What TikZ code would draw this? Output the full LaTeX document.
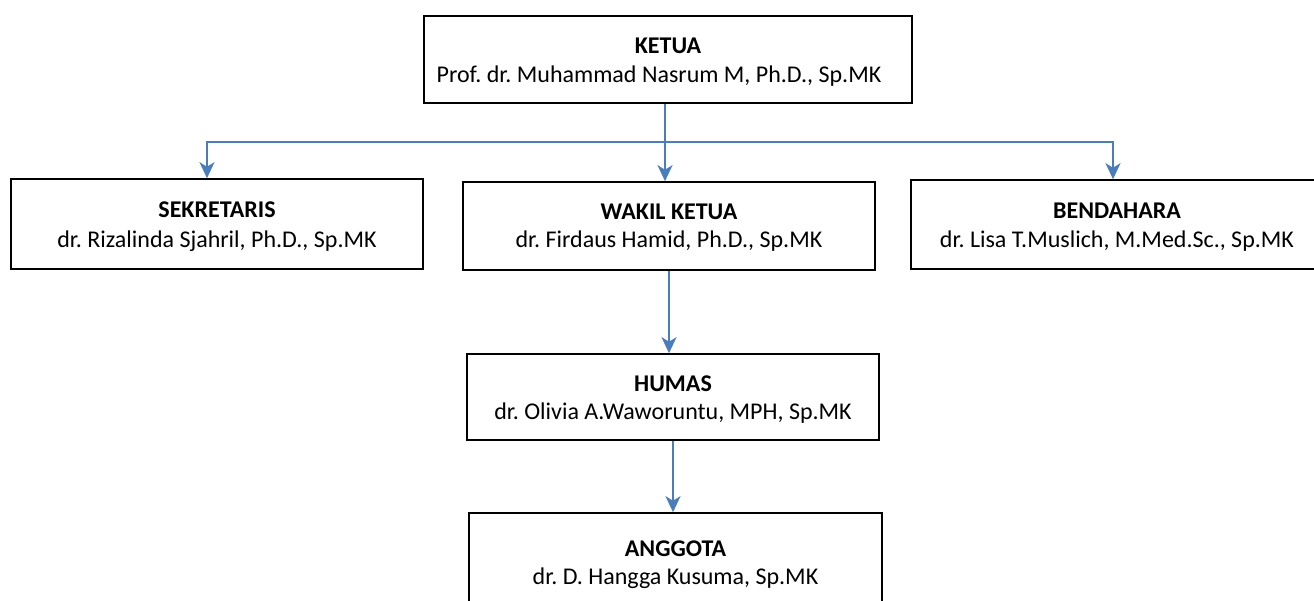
\documentclass[tikz,border=0pt]{standalone}
\usepackage{fontspec}
\setmainfont{Carlito}
\usetikzlibrary{arrows.meta}
\definecolor{conn}{RGB}{74,126,187}
\frenchspacing
\tikzset{
  box/.style={draw=black, line width=1.6pt, inner sep=0pt, fill=none},
  ttl/.style={anchor=base, font=\fontsize{24}{28}\selectfont\bfseries\frenchspacing, inner sep=0pt},
  nm/.style={anchor=base, font=\fontsize{24}{28}\selectfont\frenchspacing, inner sep=0pt},
  arr/.style={draw=conn, line width=1.8pt, -{Stealth[length=16pt,width=15pt,inset=4.5pt]}},
}
\begin{document}
\begin{tikzpicture}[x=1pt,y=-1pt]
\useasboundingbox (0,0) rectangle (1314,601);
\clip (0,0) rectangle (1314,601);
% boxes
\node[box, minimum width=488pt, minimum height=87pt] (ketua) at (668,59.5) {};
\node[box, minimum width=412pt, minimum height=90pt] (sek) at (217,224) {};
\node[box, minimum width=412pt, minimum height=88pt] (wakil) at (669,226) {};
\node[box, minimum width=412pt, minimum height=89pt] (bend) at (1117,224.5) {};
\node[box, minimum width=412pt, minimum height=86pt] (humas) at (673,397) {};
\node[box, minimum width=413pt, minimum height=98pt] (angg) at (675.5,562) {};
% texts
\node[ttl] (ketuaT) at ([yshift=6pt]ketua.center) {KETUA};
\node[nm]  (ketuaN) at ([xshift=-9pt,yshift=-23.5pt]ketua.center) {Prof. dr. Muhammad Nasrum M, Ph.D., Sp.MK};
\node[ttl] (sekT) at ([yshift=6pt]sek.center) {SEKRETARIS};
\node[nm]  (sekN) at ([yshift=-24pt]sek.center) {dr. Rizalinda Sjahril, Ph.D., Sp.MK};
\node[ttl] (wakilT) at ([yshift=6pt]wakil.center) {WAKIL KETUA};
\node[nm]  (wakilN) at ([yshift=-22pt]wakil.center) {dr. Firdaus Hamid, Ph.D., Sp.MK};
\node[ttl] (bendT) at ([yshift=6pt]bend.center) {BENDAHARA};
\node[nm]  (bendN) at ([yshift=-23pt]bend.center) {dr. Lisa T.Muslich, M.Med.Sc., Sp.MK};
\node[ttl] (humasT) at ([yshift=6pt]humas.center) {HUMAS};
\node[nm]  (humasN) at ([yshift=-22pt]humas.center) {dr. Olivia A.Waworuntu, MPH, Sp.MK};
\node[ttl] (anggT) at ([yshift=6pt]angg.center) {ANGGOTA};
\node[nm]  (anggN) at ([yshift=-22pt]angg.center) {dr. D. Hangga Kusuma, Sp.MK};
% connectors
\coordinate (hub) at (665,142);
\coordinate (hL) at (207,142);
\coordinate (hR) at (1113,142);
\draw[arr] (ketua.south -| hub) -- (wakil.north -| hub);
\draw[arr] (hub) -| (sek.north -| hL);
\draw[arr] (hub) -| (bend.north -| hR);
\draw[arr] (wakil.south) -- (wakil.south |- humas.north);
\draw[arr] (humas.south) -- (humas.south |- angg.north);
\end{tikzpicture}
\end{document}
